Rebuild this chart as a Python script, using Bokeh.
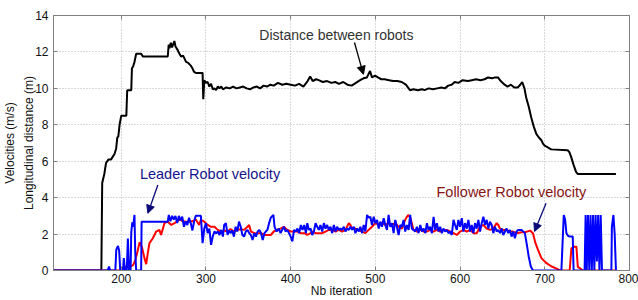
from bokeh.plotting import figure
from bokeh.models import (Range1d, LinearAxis, FixedTicker, Label, Arrow, NormalHead,
                          CustomJSTickFormatter)
from bokeh.embed import file_html
from bokeh.resources import INLINE

# ---------------- data ----------------
dist_x = [120, 176.5, 177.5, 180, 182, 185, 188, 192, 194, 195.3, 196.5, 198, 200, 206, 207, 211.8,
          212.6, 214, 215.6, 217.6, 223.5, 225.5, 254.9, 256, 257, 258.5, 260, 261.5, 262.7, 264,
          266.7, 268, 270.6, 273, 276.5, 279, 282, 284, 286, 288, 296, 296.8, 297.5, 298, 300, 302,
          304, 306, 308, 310, 312, 314, 316, 318, 320, 324, 328, 332, 336, 340, 344, 348, 352, 356,
          360, 364, 368, 372, 376, 380, 385, 390, 395, 400, 405, 410, 415, 420, 423, 426, 430, 433,
          438, 443, 448, 452.6, 457, 462, 467, 472, 477, 482, 486, 490, 493.7, 496, 499.6, 503, 507,
          511, 516, 521, 526, 531, 536, 540.8, 545, 550, 555, 558, 563, 568, 573, 578, 582, 586, 590,
          593.7, 598, 603, 609, 614, 619, 624, 629, 633, 638, 641, 644.7, 648, 652.6, 656, 660, 664,
          668, 671, 673.3, 676, 678, 681, 684, 687, 690, 693, 696, 698, 700, 704, 707.5, 727, 729,
          731, 734, 737, 739, 784]
dist_y = [0, 0, 4.8, 5.3, 5.9, 6.1, 6.1, 6.4, 6.7, 7.3, 7.35, 8.0, 8.5, 8.5, 9.9, 9.9,
          11.1, 11.2, 11.45, 11.9, 11.9, 11.75, 11.75, 12.4, 12.2, 12.5, 12.25, 12.45, 12.6, 12.3,
          12.1, 11.95, 11.75, 11.8, 11.45, 11.4, 11.25, 11.1, 10.9, 10.85, 10.85, 9.4, 10.0, 10.45, 10.3, 10.35,
          10.1, 10.25, 9.95, 10.0, 9.9, 10.1, 10.0, 10.1, 9.95, 10.05, 10.0, 10.1, 10.0, 10.05, 10.1, 10.0, 9.95, 10.05,
          10.1, 10.0, 10.15, 10.1, 10.2, 10.15, 10.3, 10.2, 10.25, 10.2, 10.15, 10.25, 10.1, 10.4, 10.65, 10.4, 10.5, 10.45,
          10.35, 10.4, 10.3, 10.35, 10.25, 10.35, 10.2, 10.15, 10.3, 10.45, 10.55, 10.6, 10.95, 10.6, 10.7, 10.6, 10.5,
          10.5, 10.45, 10.4, 10.4, 10.35, 10.2, 9.9, 9.95, 9.9, 9.95, 9.9, 10.0, 9.95, 10.0, 10.05, 10.0, 10.15, 10.2,
          10.35, 10.3, 10.45, 10.4, 10.45, 10.5, 10.45, 10.5, 10.6, 10.55, 10.6, 10.6, 10.4, 10.2, 10.1, 10.2, 10.05,
          10.05, 10.2, 10.35, 10.0, 9.5, 9.0, 8.4, 7.9, 7.5, 7.3, 7.15, 6.95, 6.85, 6.75, 6.65, 6.6, 6.5,
          6.25, 5.8, 5.4, 5.3, 5.3]

leader_x = [120, 184, 185.5, 187, 193, 194.1, 196.1, 197.5, 198.8, 202, 203, 204.5, 206.5, 207.8, 209.2,
            211, 211.8, 213, 214, 215.6, 216.5, 217.6, 223.5, 224, 254.9, 256.1, 258, 260, 262, 264,
            266, 268, 270, 272, 274, 276, 278, 280, 282, 284, 286, 288, 294, 296, 298, 300, 302, 304,
            306, 308, 310, 312, 314, 316, 318, 320, 321.5, 323.5, 325.5, 327.4, 329, 331, 333, 335,
            337, 339, 341, 343, 345, 347, 349, 351, 353, 355, 357, 359, 361, 363, 365, 367, 369,
            370.6, 372.5, 374.5, 376.5, 379.6, 381, 383.5, 386, 388, 390, 392, 394, 396, 398, 400,
            402, 404, 406, 408, 410, 412, 414, 416, 418, 419.6, 421.5, 423.5, 425.4, 427.4, 429.4,
            431.3, 433.3, 435.2, 437.2, 439.2, 441.1, 443, 445, 447, 449, 451, 453, 454.9, 456.8,
            458.8, 460.7, 462.7, 464.7, 466.6, 468.6, 470.5, 472.5, 474.5, 476.4, 478.4, 480.4, 482.3,
            484.3, 486.2, 488.2, 490.2, 492.1, 494, 496, 498, 500, 502, 503.9, 505.8, 507.8, 509.8,
            511.7, 513.7, 515.6, 517.6, 519.6, 521.5, 523.5, 525.4, 527.4, 529.4, 531.3, 533.3, 535.2,
            537.2, 539.2, 541.1, 543, 545, 547, 549, 551, 553, 555, 557, 559, 560.8, 562.8, 564.7,
            566.7, 568.7, 570.6, 572.6, 574.5, 576.5, 578.5, 580.4, 582.4, 584.3, 586.3, 588.3, 590.2,
            592.2, 594.1, 596.1, 598, 600, 602, 603.9, 605.9, 607.9, 609.8, 611.8, 613.7, 615.7, 617.7,
            619.6, 621.6, 623.6, 625.5, 627.5, 629.4, 631.4, 633.4, 635.3, 637.3, 639.2, 641.2, 643.2,
            645.1, 647.1, 649, 651, 653, 654.9, 656.9, 658.8, 660.8, 662.8, 664.7, 666.7, 668.6, 672.6,
            676.5, 678.5, 681, 683.5, 686, 719.6, 722.4, 724, 725.5, 727.5, 729.4, 733, 734, 747, 748.2,
            749.5, 751, 752.5, 754, 755.5, 757, 758.5, 760, 761.5, 763, 764.5, 766, 767.5, 778.6,
            779.2, 781, 782.5, 784]
leader_v = [0, 0, 0.22, 0, 0, 1.13, 1.35, 1.1, 0, 0, 0.68, 0, 0, 1.75, 0,
            0, 2.1, 2.65, 2.4, 3.05, 1.0, 0, 0, 2.68, 2.68, 3.05, 2.7, 3.0, 2.8, 3.0,
            2.6, 3.0, 2.75, 2.95, 2.4, 2.7, 2.5, 2.9, 2.6, 2.2, 2.7, 3.0, 3.0, 1.5, 2.3, 2.6, 2.05, 2.3,
            1.41, 1.86, 2.14, 2.05, 2.14, 1.95, 2.23, 1.86, 2.5, 2.6, 1.95, 2.2, 2.05, 2.2, 1.86, 2.4,
            2.14, 2.68, 2.4, 1.95, 1.86, 2.14, 2.23, 2.05, 1.95, 1.68, 2.05, 1.86, 2.14, 2.23, 2.05, 1.68, 2.05,
            2.14, 2.23, 2.6, 2.9, 3.05, 2.4, 2.14, 2.3, 2.05, 2.23, 2.4, 2.14, 2.23, 2.05, 1.86,
            1.6, 2.23, 2.14, 2.3, 2.05, 2.5, 2.23, 2.5, 2.05, 2.6, 2.23, 2.3, 1.95, 2.14, 2.6,
            2.4, 2.23, 2.5, 2.14, 2.6, 2.3, 2.5, 2.23, 2.4, 2.05, 2.5, 2.14, 2.4, 2.23,
            2.3, 2.23, 2.4, 2.14, 2.3, 2.23, 2.4, 2.23, 2.4, 2.05, 2.3, 2.14, 2.4,
            2.05, 2.5, 2.14, 3.05, 2.9, 2.95, 2.5, 2.95, 2.6, 2.78, 2.3, 2.68, 2.4, 2.87,
            2.5, 2.23, 3.05, 2.4, 2.6, 2.05, 2.78, 2.4, 1.95, 2.5, 2.4, 2.78, 2.14,
            2.5, 2.23, 3.05, 2.3, 2.23, 2.14, 2.4, 2.05, 2.5, 2.14, 2.3, 2.05, 2.6, 2.23, 2.4,
            2.05, 2.95, 2.23, 2.6, 2.14, 2.4, 2.05, 2.3, 2.14, 2.23, 2.05, 2.14, 1.95,
            2.78, 2.5, 2.23, 2.78, 2.4, 2.87, 2.14, 2.6, 2.3, 2.78, 2.14, 2.5, 2.05, 2.6,
            2.3, 2.78, 2.14, 2.6, 2.95, 2.5, 2.78, 2.3, 2.68, 2.5, 2.05, 2.4, 2.14,
            2.23, 2.05, 2.3, 1.95, 2.14, 2.3, 2.05, 2.23, 1.86, 2.14, 1.77, 2.14, 2.23, 2.23,
            2.05, 1.5, 0.77, 0.22, 0, 0, 3.05, 2.8, 2.05, 1.9, 1.86, 1.86, 0, 0, 3.05,
            0, 3.05, 0, 3.05, 0, 3.05, 0, 3.05, 0.5, 3.05, 0, 3.05, 0, 0,
            2.4, 3.05, 2.0, 0]

follower_x = [120, 198, 200, 205, 210, 214, 216.8, 219.6, 221.6, 224.3, 227.4, 229.4, 231.3, 233.3,
              237.3, 241.2, 245, 247, 251, 255, 259, 263, 269, 273, 277, 284, 288, 292, 294, 298,
              302, 306, 310, 314, 318, 321.5, 325.5, 329, 333, 337, 341, 345, 349, 351, 353, 357,
              361, 365, 369, 372.5, 376.5, 380, 384, 388, 392, 396, 400, 404, 408, 412, 416, 419.6,
              423.5, 425.4, 429.4, 433.3, 437.2, 441.1, 445, 449, 453, 456.8, 460.7, 464.7, 468.6,
              470.5, 472.5, 476.4, 480.4, 484.3, 488.2, 492, 496, 500, 504, 507.8, 511.7, 515.6,
              519.6, 523.5, 527.4, 531.3, 535.2, 537.2, 539.2, 541.1, 543, 545, 549, 553, 557,
              560.8, 564.7, 568.7, 572.6, 576.5, 580.4, 584.3, 588.3, 592.2, 596.1, 600, 603.9,
              607.9, 611.8, 615.7, 619.6, 623.6, 627.5, 631.4, 635.3, 639.2, 643.2, 645.1, 647.1,
              651, 654.9, 658.8, 662.8, 666.7, 672.6, 676.5, 682.7, 686, 689, 692, 696, 702, 708,
              714, 718, 729.4, 731.4, 734.5, 737.3, 739, 742, 745, 784]
follower_v = [0, 0, 0.1, 0.2, 0.2, 0.3, 0.6, 1.13, 1.55, 1.3, 0.68, 0.35, 0.95, 1.5,
              1.77, 2.14, 2.23, 1.95, 2.6, 2.68, 2.5, 2.6, 2.8, 2.7, 2.68, 2.7, 2.8, 2.5, 2.78, 2.68,
              2.5, 2.4, 2.4, 2.23, 2.14, 2.2, 2.14, 2.27, 2.14, 2.23, 2.27, 2.23, 2.4, 2.5, 2.14, 2.05,
              2.05, 2.05, 1.95, 1.95, 1.95, 2.14, 2.23, 2.3, 2.4, 2.23, 2.14, 2.14, 2.14, 2.05, 2.05, 1.95,
              2.05, 2.14, 2.05, 2.05, 2.05, 2.14, 2.23, 2.23, 2.14, 2.23, 2.14, 2.23, 2.6,
              2.5, 2.3, 2.3, 2.23, 2.14, 2.05, 2.23, 2.4, 2.6, 2.5, 2.6, 2.5, 2.6,
              2.5, 2.6, 2.4, 2.3, 2.78, 2.95, 3.05, 2.9, 2.6, 2.23, 2.14, 2.23, 2.14,
              2.14, 2.23, 2.14, 2.23, 2.14, 2.23, 2.23, 2.14, 2.05, 1.95, 2.14, 2.23,
              2.14, 2.23, 2.05, 2.05, 2.4, 2.5, 2.3, 2.23, 2.3, 2.6, 2.5, 2.3,
              2.23, 2.23, 2.14, 2.14, 2.05, 2.1, 2.1, 2.19, 2.05, 1.5, 1.13, 0.68, 0.4, 0.22,
              0.1, 0, 0, 1.22, 1.3, 1.31, 0.2, 0.1, 0, 0]

x_ticks = [200, 300, 400, 500, 600, 700, 800]
y_ticks = [0, 2, 4, 6, 8, 10, 12, 14]

FONT = "Liberation Sans"
AX_COL = "#808080"
TXT_COL = "#111111"

p = figure(width=638, height=300, output_backend="svg", toolbar_location=None,
           x_range=Range1d(120, 800), y_range=Range1d(0, 14),
           min_border_left=52, min_border_right=9, min_border_top=15, min_border_bottom=29)
p.outline_line_color = AX_COL
p.background_fill_color = "white"
p.border_fill_color = "white"

for ax in (p.xaxis[0], p.yaxis[0]):
    ax.axis_line_color = AX_COL
    ax.major_tick_line_color = AX_COL
    ax.major_tick_in = 4
    ax.major_tick_out = 0
    ax.minor_tick_line_color = None
    ax.major_label_text_font = FONT
    ax.major_label_text_font_size = "12px"
    ax.major_label_text_color = TXT_COL
    ax.axis_label_text_font = FONT
    ax.axis_label_text_font_size = "12px"
    ax.axis_label_text_font_style = "normal"
    ax.axis_label_text_color = TXT_COL
p.xaxis[0].ticker = FixedTicker(ticks=x_ticks)
p.yaxis[0].ticker = FixedTicker(ticks=y_ticks)
p.xaxis[0].major_label_standoff = 3
p.xaxis[0].axis_label = "Nb iteration"
p.xaxis[0].axis_label_standoff = -2
p.yaxis[0].major_label_standoff = 5
p.yaxis[0].axis_label = "Velocities (m/s)\nLongitudinal distance (m)"
p.yaxis[0].axis_label_standoff = -4
p.yaxis[0].axis_label_text_line_height = 1.35

# mirrored inward ticks on top and right (no labels)
for loc, tk in (("above", x_ticks), ("right", y_ticks)):
    ax = LinearAxis(ticker=FixedTicker(ticks=tk),
                    formatter=CustomJSTickFormatter(code="return ''"))
    ax.axis_line_color = AX_COL
    ax.major_tick_line_color = AX_COL
    ax.major_tick_in = 4
    ax.major_tick_out = 0
    ax.minor_tick_line_color = None
    ax.major_label_text_font_size = "0px"
    ax.major_label_standoff = 0
    p.add_layout(ax, loc)

p.grid.grid_line_color = "#b4b4b4"
p.grid.grid_line_dash = "1 2"
p.xgrid.ticker = FixedTicker(ticks=x_ticks)
p.ygrid.ticker = FixedTicker(ticks=y_ticks)

p.line(dist_x, dist_y, line_color="black", line_width=2)
p.line(follower_x, follower_v, line_color="#ff0000", line_width=2)
p.line(leader_x, leader_v, line_color="#0000ff", line_width=2)

# annotations
p.add_layout(Label(x=454, y=12.95, text="Distance between robots", text_font=FONT,
                   text_font_size="14px", text_align="center", text_baseline="middle",
                   text_color="#333333"))
p.add_layout(Arrow(x_start=475.3, y_start=12.52, x_end=485.9, y_end=10.77, line_color="black",
                   line_width=1.3, end=NormalHead(size=8, fill_color="black", line_color="black")))

p.add_layout(Label(x=222, y=5.3, text="Leader Robot velocity", text_font=FONT,
                   text_font_size="14.5px", text_align="left", text_baseline="middle",
                   text_color="#14148c"))
p.add_layout(Arrow(x_start=243.2, y_start=4.69, x_end=231.4, y_end=3.14, line_color="#0a0a78",
                   line_width=1.3, end=NormalHead(size=8, fill_color="#0a0a78", line_color="#0a0a78")))

p.add_layout(Label(x=572.1, y=4.29, text="Follower Robot velocity", text_font=FONT,
                   text_font_size="14.5px", text_align="left", text_baseline="middle",
                   text_color="#861414"))
p.add_layout(Arrow(x_start=701.5, y_start=3.69, x_end=687.9, y_end=2.14, line_color="#0a0a78",
                   line_width=1.3, end=NormalHead(size=8, fill_color="#0a0a78", line_color="#0a0a78")))

open("out.html", "w").write(file_html(p, INLINE))
